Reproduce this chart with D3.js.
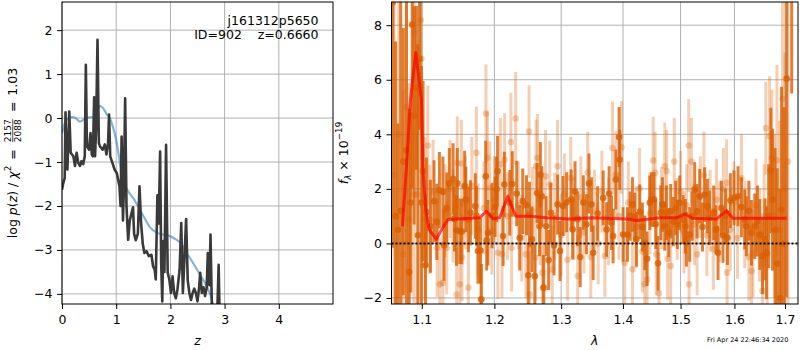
<!DOCTYPE html>
<html><head><meta charset="utf-8">
<script src="https://cdn.jsdelivr.net/npm/d3@7"></script>
<style>
body{margin:0;background:#fff;}
svg{font-family:"DejaVu Sans",sans-serif;}
</style></head><body>
<svg id="c" width="800" height="350"></svg>
<script>
// ---------- DATA ----------
// p(z) panel
const pzZ   = [0.00,0.02,0.05,0.065,0.085,0.10,0.134,0.16,0.21,0.24,0.27,0.30,0.33,0.36,0.39,0.42,0.44,0.46,0.50,0.526,0.55,0.57,0.593,0.61,0.63,0.655,0.68,0.70,0.75,0.79,0.82,0.85,0.868,0.89,0.93,0.97,1.01,1.06,1.08,1.10,1.125,1.14,1.165,1.19,1.22,1.25,1.28,1.31,1.33,1.36,1.40,1.43,1.46,1.49,1.52,1.56,1.60,1.65,1.68,1.71,1.73,1.76,1.785,1.81,1.83,1.85,1.87,1.89,1.92,1.95,1.98,2.01,2.04,2.07,2.10,2.13,2.17,2.20,2.23,2.25,2.29,2.32,2.35,2.38,2.41,2.44,2.47,2.50,2.53,2.55,2.58,2.61,2.64,2.67,2.69,2.72,2.74,2.765,2.80,2.85,2.87,2.89,2.91];
const pzLog = [-1.63,-1.5,-1.36,0.13,-1.0,-1.17,0.15,-0.79,-0.87,-1.09,-0.79,-1.02,-1.09,-0.98,-1.05,-0.87,1.21,-0.64,-0.72,-0.34,-0.83,-0.87,0.47,-0.87,-0.2,1.78,-0.57,-0.64,-0.72,-0.6,-0.83,-0.57,0.08,-0.87,-1.02,-1.17,-1.25,-1.55,-2.0,-0.42,-2.33,-1.7,0.45,-2.0,-2.77,-2.33,-2.18,-2.03,-2.63,-2.78,-2.63,-1.55,-2.4,-2.86,-3.07,-3.03,-3.14,-3.11,-3.37,-3.45,-3.67,-1.76,-2.4,-0.76,-3.3,-4.17,-2.8,-3.5,-0.61,-3.52,-3.67,-3.98,-3.6,-3.98,-4.1,-3.9,-3.45,-2.39,-3.98,-3.45,-2.30,-3.7,-3.98,-4.14,-3.98,-3.88,-3.98,-4.17,-3.85,-3.52,-3.98,-3.85,-4.05,-3.85,-3.07,-3.8,-2.65,-4.3,-4.5,-4.5,-4.2,-3.34,-4.6];
const priorZ   = [0.00,0.05,0.085,0.18,0.25,0.33,0.45,0.58,0.65,0.70,0.76,0.82,0.88,0.94,1.00,1.06,1.10,1.15,1.25,1.33,1.40,1.49,1.62,1.74,1.86,1.98,2.10,2.20,2.29,2.41,2.54,2.66,2.75,2.80];
const priorLog = [-0.35,-0.12,-0.04,0.02,0.0,-0.08,0.0,0.03,0.15,0.28,0.22,0.1,0.0,-0.2,-0.5,-0.95,-1.3,-1.5,-1.72,-1.85,-2.0,-2.2,-2.48,-2.6,-2.65,-2.68,-2.76,-2.86,-3.05,-3.28,-3.55,-3.8,-4.07,-4.3];

// spectrum panel: [lambda, flux, error]
const darkSpec = [
 [1.0625,8.84,9.0],[1.0660,1.0,6.4],[1.0690,0.5,3.9],[1.0726,1.2,8.0],[1.0760,3.0,4.9],[1.0800,3.42,6.5],[1.0834,-1.05,6.0],[1.0855,1.5,3.3],[1.0875,8.02,6.0],[1.0900,4.69,4.0],[1.0930,5.70,3.0],[1.0950,0.3,7.0],[1.0970,6.77,2.6],[1.0995,1.5,5.0],[1.1017,2.65,3.3],
 [1.1049,-0.80,2.6],[1.1062,1.15,2.0],[1.1115,0.63,1.7],[1.1163,1.55,1.5],[1.1200,0.79,1.4],[1.1235,1.95,1.4],[1.1282,1.89,1.3],[1.1298,-0.07,1.3],[1.1334,1.30,1.3],[1.1369,2.20,1.3],[1.1421,2.37,1.3],[1.1440,0.90,1.2],[1.1467,0.48,1.3],[1.1478,2.20,1.3],[1.1513,0.45,1.2],[1.1541,0.44,1.2],[1.1580,2.10,1.3],[1.1597,1.61,1.2],[1.1632,0.88,1.2],[1.1660,1.12,1.2],[1.1729,1.37,1.2],[1.1746,1.00,1.1],[1.1766,-0.28,1.2],[1.1802,-0.26,1.2],[1.1815,-2.05,1.3],[1.1877,2.46,1.3],[1.1890,0.11,1.1],[1.1908,0.39,1.2],[1.1966,1.02,1.2],[1.2010,1.34,1.1],[1.2031,1.98,1.2],[1.2046,2.65,1.3],[1.2126,0.27,1.1],[1.2144,2.16,1.2],[1.2224,1.49,1.2],[1.2260,2.18,1.2],[1.2325,1.83,1.2],[1.2370,0.21,1.2],[1.2415,1.55,1.2],[1.2471,1.40,1.1],[1.2497,-1.17,1.2],[1.2516,1.06,1.2],[1.2552,0.15,1.2],[1.2596,-1.20,1.2],[1.2630,1.85,1.1],[1.2667,0.63,1.1],[1.2680,2.52,1.2],[1.2703,1.73,1.1],[1.2727,-1.62,1.2],[1.2768,0.63,1.1],[1.2806,-0.61,1.1],[1.2840,1.12,1.1],[1.2889,-0.07,1.1],[1.2945,1.43,1.1],[1.2982,-0.28,1.1],[1.3029,1.37,1.1],[1.3086,1.51,1.1],[1.3157,1.61,1.1],[1.3180,0.51,1.1],[1.3218,1.91,1.1],[1.3260,0.90,1.0],[1.3300,-0.50,1.1],[1.3350,1.50,1.0],[1.3400,0.70,1.1],[1.3440,2.20,1.1],
 [1.3482,1.43,1.0],[1.3508,-0.34,1.0],[1.3580,1.10,1.0],[1.3671,1.67,1.0],[1.3727,0.51,1.0],[1.3769,1.83,1.0],[1.3809,0.76,1.0],[1.3835,0.27,1.0],[1.3880,2.34,1.1],[1.3935,3.90,1.1],[1.3946,3.07,1.1],[1.4002,0.33,1.0],[1.4075,0.33,1.0],[1.4120,1.00,0.9],[1.4160,1.43,1.0],[1.4199,0.96,0.9],[1.4227,0.15,1.0],[1.4284,1.16,1.0],[1.4330,0.60,0.9],[1.4370,0.02,1.0],[1.4410,-0.56,1.0],[1.4456,1.49,1.0],[1.4485,1.61,1.0],[1.4530,1.61,1.0],[1.4560,0.70,0.9],[1.4600,-0.73,1.0],[1.4648,1.12,1.0],[1.4677,1.43,1.0],[1.4718,0.63,0.9],[1.4747,1.12,1.0],[1.4790,0.40,0.9],[1.4824,1.18,1.0],[1.4870,0.80,0.9],[1.4913,1.30,1.0],[1.4943,0.70,0.9],[1.4985,1.49,1.0],[1.5044,0.88,0.9],[1.5087,0.63,1.0],[1.5105,0.15,1.0],[1.5165,0.33,1.0],[1.5210,1.00,0.9],[1.5256,1.98,1.0],[1.5299,1.18,1.0],[1.5348,1.73,1.0],[1.5400,0.60,0.9],[1.5440,1.79,1.0],[1.5491,1.37,1.0],[1.5533,0.94,1.0],[1.5608,1.12,1.0],[1.5650,0.50,0.9],[1.5689,-0.34,1.0],[1.5753,1.30,1.0],[1.5783,0.29,1.0],[1.5830,1.00,1.0],[1.5866,0.21,1.0],[1.5923,1.57,1.0],[1.5993,1.67,1.0],[1.6070,1.73,1.1],[1.6135,1.33,1.1],[1.6200,0.88,1.1],[1.6232,0.63,1.1],[1.6280,1.20,1.1],[1.6330,0.39,1.2],[1.6395,0.63,1.2],[1.6448,0.82,1.3],[1.6494,0.33,1.3],[1.6547,-0.46,1.4],[1.6593,0.15,1.5],[1.6628,-0.34,1.7],[1.6670,1.00,1.9],
 [1.6714,2.67,2.3],[1.6748,1.60,2.6],[1.6800,0.50,3.0],[1.6841,-0.74,3.5],[1.6896,-2.00,4.0],[1.6930,1.24,4.5],[1.6980,0.00,5.0],[1.7034,6.04,8.0],[1.7137,9.00,3.5]
];
const lightSpec = [
 [1.0640,2.5,8.0],[1.0700,4.0,6.0],[1.0756,-0.40,6.0],[1.0800,5.0,5.0],[1.0834,0.88,5.0],[1.0895,1.79,4.5],[1.0899,7.72,3.0],[1.0938,1.79,5.5],[1.0987,8.18,2.5],[1.0996,6.77,3.0],[1.1040,0.9,3.0],[1.1080,3.59,2.2],[1.1106,0.88,2.0],[1.1150,1.9,1.9],
 [1.1204,-0.16,1.8],[1.1240,-1.50,1.7],[1.1282,-1.44,1.7],[1.1310,1.2,1.7],[1.1334,-0.16,1.7],[1.1380,2.0,1.8],[1.1420,1.0,1.7],[1.1470,-1.87,1.7],[1.1478,2.95,1.7],[1.1513,-1.50,1.6],[1.1536,2.93,1.6],[1.1543,-0.52,1.6],[1.1590,1.5,1.7],[1.1632,-1.62,1.6],[1.1680,2.1,1.8],[1.1744,3.32,1.7],[1.1770,0.5,1.7],[1.1804,-2.07,1.7],[1.1850,1.3,1.7],[1.1880,4.76,1.8],[1.1900,3.14,1.7],[1.1935,2.04,1.7],[1.1962,0.45,1.6],[1.2000,1.6,1.6],[1.2051,-0.34,1.7],[1.2087,2.90,1.7],[1.2110,-0.40,1.6],[1.2148,3.07,1.7],[1.2190,1.0,1.6],[1.2240,3.72,1.8],[1.2250,-0.16,1.6],[1.2310,4.58,1.7],[1.2350,1.4,1.6],[1.2400,0.2,1.6],[1.2462,-0.40,1.6],[1.2509,4.10,1.7],[1.2519,-1.87,1.6],[1.2560,1.2,1.6],[1.2605,-0.52,1.6],[1.2615,2.83,1.7],[1.2638,3.14,1.6],[1.2680,0.8,1.6],[1.2710,-1.07,1.6],[1.2739,-1.62,1.6],[1.2759,2.46,1.7],[1.2822,2.16,1.6],[1.2861,-0.95,1.6],[1.2900,1.0,1.6],[1.2944,2.83,1.7],
 [1.3000,0.3,1.5],[1.3050,1.8,1.5],[1.3100,-0.6,1.5],[1.3150,2.4,1.5],[1.3200,0.9,1.5],[1.3260,-1.2,1.5],[1.3310,1.7,1.5],[1.3360,0.4,1.5],[1.3420,2.6,1.5],[1.3470,-0.5,1.5],[1.3530,1.2,1.5],[1.3590,0.0,1.5],[1.3650,1.9,1.5],[1.3700,-0.46,1.5],[1.3760,0.8,1.6],[1.3825,3.50,1.7],[1.3880,2.52,1.6],[1.3930,1.0,1.6],[1.3975,3.52,1.7],[1.4030,-0.71,1.5],[1.4090,1.5,1.5],[1.4160,-0.95,1.5],[1.4220,0.6,1.5],[1.4280,2.0,1.5],[1.4330,-0.3,1.5],[1.4370,-1.50,1.5],[1.4410,-1.32,1.5],[1.4460,1.1,1.5],[1.4515,3.04,1.6],[1.4550,2.59,1.5],[1.4570,-0.40,1.5],[1.4617,-1.83,1.5],[1.4660,1.3,1.5],[1.4718,2.83,1.6],[1.4752,2.65,1.5],[1.4770,-0.56,1.5],[1.4824,-0.83,1.5],[1.4887,3.00,1.6],[1.4940,0.9,1.5],[1.5000,1.9,1.5],[1.5060,0.4,1.5],[1.5110,1.4,1.5],[1.5147,3.59,1.7],[1.5153,-1.50,1.5],[1.5197,3.00,1.6],[1.5250,0.7,1.5],[1.5300,-0.4,1.5],[1.5360,1.7,1.5],[1.5426,2.49,1.6],[1.5480,0.3,1.5],[1.5540,1.2,1.5],[1.5600,-0.2,1.5],[1.5660,1.6,1.5],[1.5720,0.8,1.5],[1.5790,2.0,1.5],[1.5851,2.22,1.6],[1.5860,-1.07,1.5],[1.5920,0.5,1.5],[1.5990,1.5,1.5],[1.6060,0.2,1.5],[1.6135,2.40,1.6],[1.6200,0.7,1.6],[1.6280,-0.5,1.6],[1.6330,-1.01,1.6],[1.6360,-0.37,1.6],[1.6420,1.4,1.7],[1.6490,0.3,1.7],[1.6547,-1.74,1.8],[1.6580,1.0,1.9],[1.6614,4.23,1.7],[1.6640,-0.38,2.0],[1.6687,3.93,2.2],[1.6734,3.13,2.5],[1.6790,1.0,3.0],[1.6836,3.04,3.5],[1.6890,0.5,4.0],[1.6950,5.30,4.5],[1.7000,2.0,5.0],[1.7060,3.0,6.0]
];
const modelLam  = [1.0748,1.0800,1.0852,1.0921,1.0996,1.1017,1.1053,1.1097,1.1196,1.1240,1.1351,1.1792,1.1887,1.1982,1.2078,1.2194,1.2312,1.2521,1.2774,1.3136,1.3503,1.4060,1.4230,1.4633,1.4929,1.5078,1.5223,1.5661,1.5851,1.5971,1.6498,1.7034];
const modelFlux = [0.63,2.83,5.27,7.0,5.27,2.65,1.24,0.51,0.15,0.39,0.88,0.94,1.18,0.90,0.95,1.73,1.0,1.0,0.94,0.90,0.94,0.90,0.84,0.94,0.94,1.08,0.92,0.90,1.20,0.92,0.92,0.92];

const zTicks    = [0,1,2,3,4];
const pzTicks   = [-4,-3,-2,-1,0,1,2];
const lamTicks  = [1.1,1.2,1.3,1.4,1.5,1.6,1.7];
const fluxTicks = [-2,0,2,4,6,8];
const titleLines = ["j161312p5650","ID=902\u00a0\u00a0\u00a0\u00a0z=0.6660"];
const stamp = "Fri Apr 24 22:46:34 2020";

// ---------- LAYOUT ----------
const FS = 12.5;
const svg = d3.select("#c");
const L = {x0:62, x1:333, y0:2, y1:304};
const R = {x0:391.5, x1:798, y0:2, y1:304};
const xL = d3.scaleLinear().domain([0,5]).range([L.x0,L.x1]);
const yL = d3.scaleLinear().domain([-4.23,2.64]).range([L.y1,L.y0]);
const xR = d3.scaleLog().domain([1.0608,1.7267]).range([R.x0,R.x1]);
const yR = d3.scaleLinear().domain([-2.22,8.85]).range([R.y1,R.y0]);

const defs = svg.append("defs");
[["clipL",L],["clipR",R]].forEach(([id,b])=>{
  defs.append("clipPath").attr("id",id).append("rect")
    .attr("x",b.x0).attr("y",b.y0).attr("width",b.x1-b.x0).attr("height",b.y1-b.y0);
});

function grid(b, xs, ys, xt, yt){
  const g = svg.append("g").attr("stroke","#b0b0b0").attr("stroke-width",1);
  xt.forEach(t=>g.append("line").attr("x1",xs(t)).attr("x2",xs(t)).attr("y1",b.y0).attr("y2",b.y1));
  yt.forEach(t=>g.append("line").attr("x1",b.x0).attr("x2",b.x1).attr("y1",ys(t)).attr("y2",ys(t)));
}
function axes(b, xs, ys, xt, yt, xf, yf){
  const gx = svg.append("g").attr("transform",`translate(0,${b.y1})`)
    .call(d3.axisBottom(xs).tickValues(xt).tickSize(5).tickPadding(6.6).tickFormat(xf));
  const gy = svg.append("g").attr("transform",`translate(${b.x0},0)`)
    .call(d3.axisLeft(ys).tickValues(yt).tickSize(5).tickPadding(4.5).tickFormat(yf));
  [gx,gy].forEach(g=>{
    g.select(".domain").remove();
    g.attr("font-size",FS).attr("font-family","DejaVu Sans, sans-serif");
    g.selectAll(".tick line").attr("stroke","#000").attr("stroke-width",1);
    g.selectAll(".tick text").attr("fill","#000");
  });
  svg.append("rect").attr("x",b.x0).attr("y",b.y0).attr("width",b.x1-b.x0).attr("height",b.y1-b.y0)
    .attr("fill","none").attr("stroke","#000").attr("stroke-width",1);
}

// ---------- LEFT PANEL ----------
grid(L, xL, yL, zTicks, pzTicks);
const gL = svg.append("g").attr("clip-path","url(#clipL)");
gL.append("path").datum(priorZ.map((z,i)=>[z,priorLog[i]]))
  .attr("d", d3.line().x(d=>xL(d[0])).y(d=>yL(d[1])).curve(d3.curveMonotoneX))
  .attr("fill","none").attr("stroke","#1f77b4").attr("stroke-opacity",0.55).attr("stroke-width",2.2);
gL.append("path").datum(pzZ.map((z,i)=>[z,pzLog[i]]))
  .attr("d", d3.line().x(d=>xL(d[0])).y(d=>yL(d[1])))
  .attr("fill","none").attr("stroke","#3a3a3a").attr("stroke-width",2.6).attr("stroke-linejoin","round");
axes(L, xL, yL, zTicks, pzTicks, d3.format("d"), d3.format("d"));
svg.append("text").attr("x",318.5).attr("y",25).attr("text-anchor","end").attr("font-size",FS).text(titleLines[0]);
svg.append("text").attr("x",318.5).attr("y",38.5).attr("text-anchor","end").attr("font-size",FS).text(titleLines[1]);

// ---------- RIGHT PANEL ----------
grid(R, xR, yR, lamTicks, fluxTicks);
const gR = svg.append("g").attr("clip-path","url(#clipR)");
const ORG = "rgb(217,95,2)";
function spec(data, op){
  const g = gR.append("g");
  g.selectAll("line").data(data).join("line")
    .attr("x1",d=>xR(d[0])).attr("x2",d=>xR(d[0]))
    .attr("y1",d=>yR(d[1]-d[2])).attr("y2",d=>yR(d[1]+d[2]))
    .attr("stroke",ORG).attr("stroke-opacity",op).attr("stroke-width",3);
  g.selectAll("circle").data(data).join("circle")
    .attr("cx",d=>xR(d[0])).attr("cy",d=>yR(d[1])).attr("r",3.3)
    .attr("fill",ORG).attr("fill-opacity",op);
}
spec(lightSpec, 0.3);
spec(darkSpec, 0.8);
gR.append("path").datum(modelLam.map((l,i)=>[l,modelFlux[i]]))
  .attr("d", d3.line().x(d=>xR(d[0])).y(d=>yR(d[1])))
  .attr("fill","none").attr("stroke","red").attr("stroke-opacity",0.7).attr("stroke-width",3).attr("stroke-linejoin","round");
gR.append("line").attr("x1",R.x0).attr("x2",R.x1).attr("y1",yR(0)).attr("y2",yR(0))
  .attr("stroke","#000").attr("stroke-width",2).attr("stroke-dasharray","2,2");
axes(R, xR, yR, lamTicks, fluxTicks, d3.format(".1f"), d3.format("d"));

// ---------- LABELS ----------
function rich(pieces, tx, ty){
  const g = svg.append("g");
  let x = 0;
  pieces.forEach(p=>{
    x += p.gap||0;
    if (p.frac){
      const fs = p.size;
      const tn = g.append("text").attr("font-size",fs).text(p.num);
      const td = g.append("text").attr("font-size",fs).text(p.den);
      const wn = tn.node().getComputedTextLength(), wd = td.node().getComputedTextLength();
      const w = Math.max(wn,wd), pad = 1.2, ax = -0.3*FS;
      tn.attr("x",x+pad+(w-wn)/2).attr("y",ax-1.3);
      td.attr("x",x+pad+(w-wd)/2).attr("y",ax+1.3+0.73*fs);
      g.append("line").attr("x1",x+pad).attr("x2",x+pad+w).attr("y1",ax).attr("y2",ax)
        .attr("stroke","#000").attr("stroke-width",0.7);
      x += w + 2*pad;
    } else {
      const t = g.append("text").attr("x",x).attr("y",p.dy||0).attr("font-size",p.size||FS)
        .attr("font-style",p.it?"italic":"normal").text(p.t);
      x += t.node().getComputedTextLength();
    }
    x += p.gapR||0;
  });
  g.attr("transform",`translate(${tx},${ty}) rotate(-90) translate(${-x/2},0)`);
}
rich([{t:"log\u00a0"},{t:"p",it:1},{t:"("},{t:"z",it:1},{t:")\u00a0/\u00a0"},{t:"χ",it:1},
      {t:"2",size:FS*0.7,dy:-0.42*FS},{t:"\u00a0=\u00a0",gap:2,gapR:2},{frac:1,num:"2157",den:"2088",size:FS*0.72},
      {t:"\u00a0=\u00a0",gap:2,gapR:2},{t:"1.03"}], 16.5, 153);
rich([{t:"f",it:1},{t:"λ",it:1,size:FS*0.7,dy:0.25*FS},{t:"\u00a0×\u00a010"},{t:"−19",size:FS*0.7,dy:-0.45*FS}], 348, 153);

svg.append("text").attr("x",(L.x0+L.x1)/2).attr("y",345).attr("text-anchor","middle")
  .attr("font-size",FS).attr("font-style","italic").text("z");
svg.append("text").attr("x",(R.x0+R.x1)/2).attr("y",345).attr("text-anchor","middle")
  .attr("font-size",FS).attr("font-style","italic").text("λ");
svg.append("text").attr("x",788.3).attr("y",341.5).attr("text-anchor","end")
  .attr("font-size",6.5).text(stamp);
</script>
</body></html>
